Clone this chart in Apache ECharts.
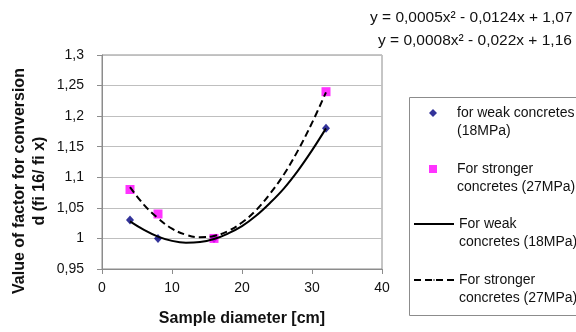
<!DOCTYPE html>
<html>
<head>
<meta charset="utf-8">
<script src="https://cdn.jsdelivr.net/npm/echarts@6/dist/echarts.min.js"></script>
<style>
html,body{margin:0;padding:0;background:#fff;}
#chart{width:576px;height:332px;}
</style>
</head>
<body>
<div id="chart"></div>
<script>
// Measured points (sample diameter [cm] -> conversion factor)
const diameters = [4, 8, 16, 32];
const weakValues = [1.03, 1.00, 1.00, 1.18];
const strongValues = [1.08, 1.04, 1.00, 1.24];
// Trend curves
const trendX = [4, 6, 8, 10, 12, 14, 16, 18, 20, 22, 24, 26, 28, 30, 32];
const weakTrend = [1.028, 1.014, 1.003, 0.996, 0.993, 0.994, 0.999, 1.008, 1.020, 1.037, 1.058, 1.082, 1.111, 1.144, 1.180];
const strongTrend = [1.084, 1.055, 1.033, 1.016, 1.006, 1.002, 1.004, 1.012, 1.026, 1.046, 1.073, 1.105, 1.144, 1.189, 1.239];
const seriesNames = ['for weak concretes\n(18MPa)', 'For stronger\nconcretes (27MPa)', 'For weak\nconcretes (18MPa)', 'For stronger\nconcretes (27MPa) '];
const equations = ['y = 0,0005x\u00b2 - 0,0124x + 1,07', 'y = 0,0008x\u00b2 - 0,022x + 1,16'];
const xTitle = 'Sample diameter [cm]';
const yTitle = 'Value of factor for conversion\nd (fi 16/ fi x)';

const FONT = '"Liberation Sans", Arial, sans-serif';
const pairs = (xs, ys) => xs.map((x, i) => [x, ys[i]]);

const chart = echarts.init(document.getElementById('chart'), null, {renderer: 'canvas'});
chart.setOption({
  animation: false,
  backgroundColor: '#ffffff',
  textStyle: {fontFamily: FONT},
  grid: {left: 102, right: 194, top: 55, bottom: 62, show: true, borderColor: '#8c8c8c', borderWidth: 1, backgroundColor: 'transparent'},
  xAxis: {
    type: 'value', min: 0, max: 40, interval: 10,
    axisLine: {lineStyle: {color: '#8c8c8c', width: 1}},
    axisTick: {show: true, length: 5, lineStyle: {color: '#8c8c8c'}},
    axisLabel: {color: '#111', fontSize: 14, margin: 12, fontFamily: FONT},
    splitLine: {show: false},
    name: xTitle, nameLocation: 'middle', nameGap: 42,
    nameTextStyle: {fontSize: 16, fontWeight: 'bold', color: '#111', fontFamily: FONT}
  },
  yAxis: {
    type: 'value', min: 0.95, max: 1.3, interval: 0.05,
    axisLine: {show: true, lineStyle: {color: '#8c8c8c', width: 1}},
    axisTick: {show: true, length: 5, lineStyle: {color: '#8c8c8c'}},
    axisLabel: {color: '#111', fontSize: 14, margin: 18, fontFamily: FONT,
      formatter: v => String(+v.toFixed(2)).replace('.', ',')},
    splitLine: {show: true, lineStyle: {color: '#bfbfbf', width: 1}}
  },
  legend: [
    {
      orient: 'vertical', left: 429, top: 86, padding: 0, itemGap: 2,
      itemWidth: 8, itemHeight: 8,
      textStyle: {fontSize: 14, lineHeight: 18, color: '#111', fontFamily: FONT, padding: [0, 0, 0, 15]},
      formatter: name => '\u00a0\n' + name.trim(),
      data: [seriesNames[0], seriesNames[1]]
    },
    {
      orient: 'vertical', left: 413, top: 197, padding: 0, itemGap: 2,
      itemWidth: 40, itemHeight: 2,
      textStyle: {fontSize: 14, lineHeight: 18, color: '#111', fontFamily: FONT},
      formatter: name => '\u00a0\n' + name.trim(),
      data: [seriesNames[2], seriesNames[3]]
    }
  ],
  graphic: [
    {type: 'rect', left: 407, top: 95, shape: {width: 200, height: 218},
      style: {fill: 'none', stroke: '#8c8c8c', lineWidth: 1}, z: -1},
    {type: 'text', x: 370, y: 18, style: {text: equations[0], fontSize: 15.5, fontFamily: FONT, fill: '#111', verticalAlign: 'middle'}},
    {type: 'text', x: 378, y: 41, style: {text: equations[1], fontSize: 15.5, fontFamily: FONT, fill: '#111', verticalAlign: 'middle'}},
    {type: 'text', x: 30, y: 181, rotation: Math.PI / 2,
      style: {text: yTitle, fontSize: 16, fontWeight: 'bold', fontFamily: FONT, fill: '#111', align: 'center', verticalAlign: 'middle', lineHeight: 20}}
  ],
  series: [
    {name: seriesNames[0], type: 'scatter', symbol: 'diamond', symbolSize: [8, 9],
      itemStyle: {color: '#000080'}, data: pairs(diameters, weakValues), z: 2},
    {name: seriesNames[1], type: 'scatter', symbol: 'rect', symbolSize: 9,
      itemStyle: {color: '#ff00ff'}, data: pairs(diameters, strongValues), z: 2},
    {name: seriesNames[2], type: 'line', smooth: 0.4, symbol: 'none', showSymbol: false,
      lineStyle: {color: '#000', width: 2, type: 'solid'}, itemStyle: {color: '#000'},
      data: pairs(trendX, weakTrend), z: 3},
    {name: seriesNames[3], type: 'line', smooth: 0.4, symbol: 'none', showSymbol: false,
      lineStyle: {color: '#000', width: 2, type: [7, 4]}, itemStyle: {color: '#000'},
      data: pairs(trendX, strongTrend), z: 3}
  ]
});
</script>
</body>
</html>
